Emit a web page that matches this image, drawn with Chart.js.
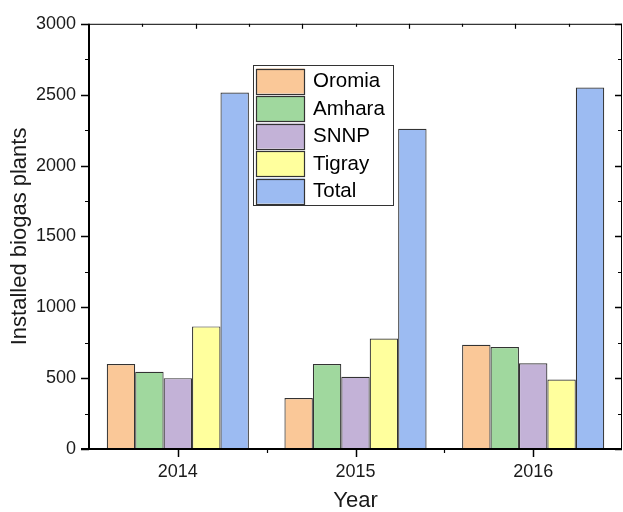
<!DOCTYPE html>
<html>
<head>
<meta charset="utf-8">
<script src="https://cdn.jsdelivr.net/npm/chart.js@4/dist/chart.umd.min.js"></script>
<style>
  html, body { margin: 0; padding: 0; background: #fff; }
  #wrap { width: 623px; height: 512px; }
</style>
</head>
<body>
<div id="wrap"><canvas id="chart" width="623" height="512"></canvas></div>
<script>
// Данные
const years = ["2014", "2015", "2016"];
const oromia = [600, 360, 735];
const amhara = [545, 600, 720];
const snnp = [500, 510, 605];
const tigray = [865, 780, 490];
const total = [2515, 2260, 2550];
const seriesNames = ["Oromia", "Amhara", "SNNP", "Tigray", "Total"];
const seriesColors = ["#fac898", "#a0d89e", "#c3b2d7", "#ffff9d", "#9cbbf2"];

const FONT = "'Liberation Sans', Arial, sans-serif";

// Рамка, засечки и легенда рисуются плагином
const framePlugin = {
  id: "frame",
  afterDraw(chart) {
    const ctx = chart.ctx;
    const { left, right, top, bottom } = chart.chartArea;
    const x = chart.scales.x;
    const y = chart.scales.y;
    ctx.save();
    ctx.strokeStyle = "#000";
    // оси
    ctx.lineWidth = 1;
    ctx.beginPath();
    ctx.moveTo(left, top + 0.5); ctx.lineTo(right, top + 0.5);
    ctx.moveTo(right - 0.5, top); ctx.lineTo(right - 0.5, bottom);
    ctx.stroke();
    ctx.lineWidth = 2;
    ctx.beginPath();
    ctx.moveTo(left, top); ctx.lineTo(left, bottom + 1);
    ctx.moveTo(left - 8, bottom); ctx.lineTo(right, bottom);
    ctx.stroke();
    // засечки по Y
    for (let v = 0; v <= 3000; v += 250) {
      const py = Math.round(y.getPixelForValue(v)) + 0.5;
      const major = v % 500 === 0;
      ctx.lineWidth = major ? 1.5 : 1.2;
      ctx.beginPath();
      ctx.moveTo(left - (major ? 8 : 4), py); ctx.lineTo(left, py);
      ctx.moveTo(right - (major ? 7 : 4), py); ctx.lineTo(right, py);
      ctx.stroke();
    }
    // засечки по X снизу
    for (let i = 0; i < years.length; i++) {
      const px = Math.round(x.getPixelForValue(i)) + 0.5;
      ctx.lineWidth = 1.5;
      ctx.beginPath();
      ctx.moveTo(px, bottom); ctx.lineTo(px, bottom + 8);
      ctx.stroke();
      if (i < years.length - 1) {
        const mx = Math.round(x.getPixelForValue(i + 0.5)) + 0.5;
        ctx.lineWidth = 1.2;
        ctx.beginPath();
        ctx.moveTo(mx, bottom); ctx.lineTo(mx, bottom + 4);
        ctx.stroke();
      }
    }
    // засечки сверху
    const step = (right - left) / 10;
    for (let k = 1; k < 10; k++) {
      const px = Math.round(left + k * step) + 0.5;
      ctx.lineWidth = 1.2;
      ctx.beginPath();
      ctx.moveTo(px, top); ctx.lineTo(px, top + (k % 2 === 0 ? 5 : 3));
      ctx.stroke();
    }
    // легенда
    const lx = 253, ly = 65, lw = 140, lh = 140;
    ctx.fillStyle = "#fff";
    ctx.fillRect(lx, ly, lw, lh);
    ctx.lineWidth = 1;
    ctx.strokeStyle = "#333";
    ctx.strokeRect(lx + 0.5, ly + 0.5, lw, lh);
    ctx.font = "20.5px " + FONT;
    ctx.textBaseline = "middle";
    chart.data.datasets.forEach((ds, i) => {
      const sy = ly + 3.5 + i * 27.5;
      ctx.fillStyle = ds.backgroundColor;
      ctx.fillRect(lx + 3.5, sy, 48, 25);
      ctx.strokeStyle = "#333";
      ctx.lineWidth = 1.2;
      ctx.strokeRect(lx + 3.5, Math.round(sy) + 0.5, 48, 25);
      ctx.fillStyle = "#000";
      ctx.fillText(ds.label, lx + 60, sy + 13);
    });
    ctx.restore();
  },
};

const allSeries = [oromia, amhara, snnp, tigray, total];
const datasets = allSeries.map((values, i) => ({
  label: seriesNames[i],
  data: values,
  backgroundColor: seriesColors[i],
  borderColor: "#333",
  borderWidth: 1.2,
  categoryPercentage: 0.8,
  barPercentage: 1.0,
}));

new Chart(document.getElementById("chart"), {
  type: "bar",
  data: { labels: years, datasets: datasets },
  plugins: [framePlugin],
  options: {
    responsive: false,
    animation: false,
    layout: { padding: { top: 20, right: 1, left: 0, bottom: 0 } },
    plugins: {
      legend: { display: false },
      tooltip: { enabled: false },
    },
    scales: {
      x: {
        grid: { display: false, drawTicks: false },
        border: { display: false },
        ticks: { color: "#1a1a1a", font: { size: 18, family: FONT }, padding: 12 },
        title: {
          display: true,
          text: "Year",
          color: "#1a1a1a",
          font: { size: 22, family: FONT, lineHeight: 1 },
          padding: 0,
        },
        afterFit: (scale) => { scale.height = 63; },
      },
      y: {
        min: 0,
        max: 3000,
        grid: { display: false, drawTicks: false },
        border: { display: false },
        ticks: {
          stepSize: 500,
          color: "#1a1a1a",
          font: { size: 18, family: FONT },
          padding: 13,
          callback: (value) => String(value),
        },
        title: {
          display: true,
          text: "Installed biogas plants",
          color: "#1a1a1a",
          font: { size: 22, family: FONT, lineHeight: 1 },
          padding: { top: 9, bottom: 0 },
        },
        afterFit: (scale) => { scale.width = 89; },
      },
    },
  },
});
</script>
</body>
</html>
